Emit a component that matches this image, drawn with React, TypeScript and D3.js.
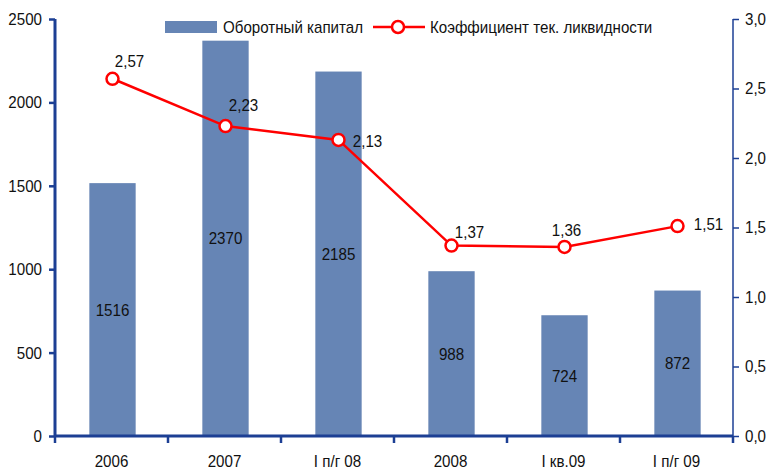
import { useEffect, useRef } from 'react';
import * as d3 from 'd3';

const categories = ['2006', '2007', 'I п/г 08', '2008', 'I кв.09', 'I п/г 09'];
const capital = [1516, 2370, 2185, 988, 724, 872];
const ratio = [2.57, 2.23, 2.13, 1.37, 1.36, 1.51];
const leftTicks = [0, 500, 1000, 1500, 2000, 2500];
const rightTicks = [0, 0.5, 1, 1.5, 2, 2.5, 3];
// label offsets from each point: dx to text centre, dy to baseline
const ratioLabelOffsets: [number, number][] = [[17, -12], [18, -15], [29, 7], [18, -8], [2, -11], [31, 4]];

const AXIS = '#1c3f94';
const BAR = '#6685b5';
const FONT = '"Liberation Sans", Arial, sans-serif';
const FS = '17px';

// the original uses a narrow, tall face; squeeze regular text horizontally
function narrow(sel: d3.Selection<any, any, any, any>, origin: string) {
  sel.style('font-family', FONT)
    .style('font-size', FS)
    .style('fill', '#111')
    .style('transform-box', 'fill-box')
    .style('transform-origin', origin)
    .style('transform', 'scaleX(0.89)');
}

export default function App() {
  const svgRef = useRef<SVGSVGElement>(null);

  useEffect(() => {
    if (!svgRef.current) return;
    const svg = d3.select(svgRef.current);
    svg.selectAll('*').remove();

    const left = 55, right = 733, top = 19, bottom = 436;

    const x = d3.scaleBand<string>().domain(categories).range([left, right]);
    const yL = d3.scaleLinear().domain([0, 2500]).range([bottom, top]);
    const yR = d3.scaleLinear().domain([0, 3]).range([bottom, top]);

    // bars
    const barW = x.bandwidth() * 0.41;
    svg.append('g')
      .selectAll('rect')
      .data(capital)
      .enter()
      .append('rect')
      .attr('x', (_, i) => (x(categories[i]) ?? 0) + x.bandwidth() / 2 - barW / 2 + 1)
      .attr('y', d => yL(d))
      .attr('width', barW)
      .attr('height', d => bottom - yL(d))
      .style('fill', BAR);

    svg.append('g')
      .selectAll('text')
      .data(capital)
      .enter()
      .append('text')
      .attr('x', (_, i) => (x(categories[i]) ?? 0) + x.bandwidth() / 2 + 1)
      .attr('y', d => (yL(d) + bottom) / 2 + 6)
      .attr('text-anchor', 'middle')
      .text(d => d)
      .call(narrow, 'center');

    // left axis
    const gl = svg.append('g').attr('transform', `translate(${left},0)`)
      .call(d3.axisLeft(yL).tickValues(leftTicks).tickSize(6).tickPadding(7).tickFormat(d3.format('d')));
    gl.select('.domain').attr('d', `M0,${top}V${bottom}`).style('stroke-width', 3);
    gl.selectAll('.tick line').style('stroke-width', 2.5);
    gl.selectAll('.tick text').call(narrow, 'right center');

    // right axis
    const gr = svg.append('g').attr('transform', `translate(${right},0)`)
      .call(d3.axisRight(yR).tickValues(rightTicks).tickSize(6).tickPadding(6)
        .tickFormat(d => d3.format('.1f')(d as number).replace('.', ',')));
    gr.select('.domain').attr('d', `M0,${top}V${bottom}`).style('stroke-width', 1.5);
    gr.selectAll('.tick line').style('stroke-width', 1.5);
    gr.selectAll('.tick text').call(narrow, 'left center');

    // bottom axis
    const gb = svg.append('g').attr('transform', `translate(0,${bottom})`)
      .call(d3.axisBottom(x).tickSize(0).tickPadding(19));
    gb.select('.domain').attr('d', `M${left},0H${right}`).style('stroke-width', 3);
    gb.selectAll('.tick text').call(narrow, 'center');
    const boundaries = d3.range(categories.length + 1).map(i => left + i * x.step());
    gb.selectAll('line.sep')
      .data(boundaries)
      .enter()
      .append('line')
      .attr('class', 'sep')
      .attr('x1', d => d).attr('x2', d => d)
      .attr('y1', 0).attr('y2', 7)
      .style('stroke', AXIS)
      .style('stroke-width', 2.5);

    svg.selectAll('.domain, .tick line').style('stroke', AXIS);

    // ratio line
    const px = (i: number) => (x(categories[i]) ?? 0) + x.bandwidth() / 2 + 1;
    const line = d3.line<number>().x((_, i) => px(i)).y(d => yR(d));
    svg.append('path')
      .datum(ratio)
      .attr('d', line)
      .style('fill', 'none')
      .style('stroke', '#ff0000')
      .style('stroke-width', 2.5);

    svg.append('g')
      .selectAll('circle')
      .data(ratio)
      .enter()
      .append('circle')
      .attr('cx', (_, i) => px(i))
      .attr('cy', d => yR(d))
      .attr('r', 6)
      .style('fill', '#fff')
      .style('stroke', '#ff0000')
      .style('stroke-width', 2.5);

    svg.append('g')
      .selectAll('text')
      .data(ratio)
      .enter()
      .append('text')
      .attr('x', (_, i) => px(i) + ratioLabelOffsets[i][0])
      .attr('y', (d, i) => yR(d) + ratioLabelOffsets[i][1])
      .attr('text-anchor', 'middle')
      .text(d => d.toFixed(2).replace('.', ','))
      .call(narrow, 'center');

    // legend
    const lg = svg.append('g');
    lg.append('rect').attr('x', 165).attr('y', 21).attr('width', 52).attr('height', 12).style('fill', BAR);
    lg.append('text').attr('x', 223).attr('y', 33)
      .text('Оборотный капитал')
      .call(narrow, 'left center');
    lg.append('line').attr('x1', 373).attr('x2', 425).attr('y1', 27).attr('y2', 27)
      .style('stroke', '#ff0000').style('stroke-width', 2.5);
    lg.append('circle').attr('cx', 398).attr('cy', 27).attr('r', 6)
      .style('fill', '#fff').style('stroke', '#ff0000').style('stroke-width', 2.5);
    lg.append('text').attr('x', 430).attr('y', 33)
      .text('Коэффициент тек. ликвидности')
      .call(narrow, 'left center');
  }, []);

  return (
    <svg ref={svgRef} width={770} height={475}
      style={{ position: 'absolute', left: 0, top: 0, background: '#fff' }} />
  );
}
